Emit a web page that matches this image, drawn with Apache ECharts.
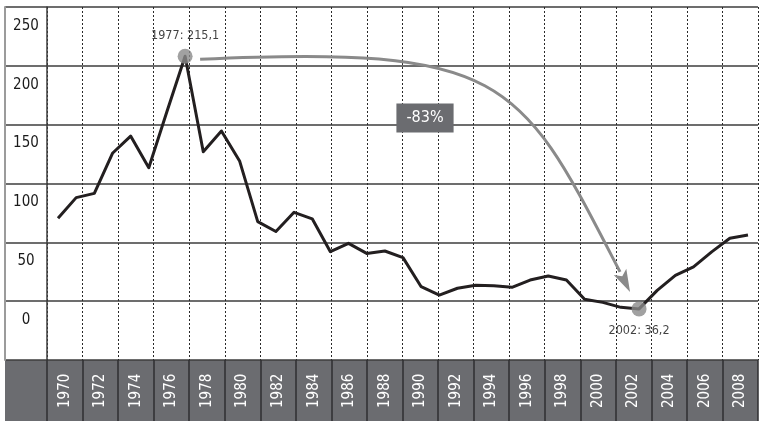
<!DOCTYPE html>
<html>
<head>
<meta charset="utf-8">
<script src="https://cdn.jsdelivr.net/npm/echarts@6.0.0/dist/echarts.min.js"></script>
<style>
  html, body { margin: 0; padding: 0; background: #fff; }
  #chart { width: 759px; height: 421px; }
</style>
</head>
<body>
<div id="chart"></div>
<script>
// data
let years = [1970, 1971, 1972, 1973, 1974, 1975, 1976, 1977, 1978, 1979,
  1980, 1981, 1982, 1983, 1984, 1985, 1986, 1987, 1988, 1989,
  1990, 1991, 1992, 1993, 1994, 1995, 1996, 1997, 1998, 1999,
  2000, 2001, 2002, 2003, 2004, 2005, 2006, 2007, 2008]
let values = [100.4, 115, 118, 146.4, 158.6, 136.2, 176, 215.1, 147.5, 162.2,
  141, 98, 91, 104.6, 100, 76.7, 82.6, 75.5, 77.2, 72.5,
  51.9, 46, 50.8, 52.9, 52.6, 51.5, 56.6, 59.5, 56.7, 43,
  40.8, 37.3, 36.2, 49.3, 59.9, 66, 76.6, 86.2, 88.5]
let cellLabels = ['1970', '1972', '1974', '1976', '1978', '1980', '1982', '1984', '1986', '1988',
  '1990', '1992', '1994', '1996', '1998', '2000', '2002', '2004', '2006', '2008']
let rowLabels = ['0', '50', '100', '150', '200', '250']
let markYears = [1977, 2002]

let font = "'DejaVu Sans Condensed', 'Liberation Sans', sans-serif"
let gridColor = '#3c3c3c'
let bandColor = '#6b6c70'

function valueOf(year) {
  return values[years.indexOf(year)]
}

function fmt(v) {
  return String(v).replace('.', ',')
}

let chart = echarts.init(document.getElementById('chart'))

let markData = markYears.map(function (y, i) {
  return {
    value: [y, valueOf(y)],
    label: i === 0 ? {position: 'top', distance: 7} : {position: 'bottom', distance: 8}
  }
})

let option = {
  animation: false,
  textStyle: {fontFamily: font},
  grid: [
    {left: 5, top: 7, width: 42, height: 353},
    {left: 47, top: 7, width: 711, height: 353},
    {left: 47, top: 360, width: 711, height: 61, show: true, backgroundColor: bandColor, borderWidth: 0},
    {left: 5, top: 360, width: 42, height: 61, show: true, backgroundColor: bandColor, borderWidth: 0}
  ],
  xAxis: [
    {gridIndex: 0, type: 'value', show: false},
    {
      gridIndex: 1, type: 'category', data: cellLabels, boundaryGap: true,
      axisLine: {show: false}, axisTick: {show: false}, axisLabel: {show: false},
      splitLine: {show: true, interval: 0, lineStyle: {color: '#2a2a2a', width: 1, type: [2, 2]}}
    },
    {gridIndex: 1, type: 'value', min: 1969.394, max: 2008.551, show: false},
    {
      gridIndex: 2, type: 'category', data: cellLabels, boundaryGap: true, position: 'bottom',
      axisLine: {show: false}, axisTick: {show: false},
      axisLabel: {inside: true, interval: 0, rotate: 90, margin: 13, color: '#ffffff', fontSize: 15, fontFamily: font},
      splitLine: {show: true, interval: 0, lineStyle: {color: '#2e2e30', width: 1.5}}
    },
    {gridIndex: 3, type: 'value', show: false}
  ],
  yAxis: [
    {
      gridIndex: 0, type: 'category', data: rowLabels, boundaryGap: true,
      axisLine: {show: true, lineStyle: {color: '#9b9b9b', width: 2}},
      axisTick: {show: false},
      axisLabel: {
        inside: true, interval: 0, align: 'center', margin: 21, verticalAlign: 'bottom',
        padding: [0, 0, 3, 0], fontSize: 15, color: '#1a1a1a', fontFamily: font
      },
      splitLine: {show: true, interval: 0, lineStyle: {color: gridColor, width: 1.5}}
    },
    {
      gridIndex: 1, type: 'category', data: rowLabels, boundaryGap: true,
      axisLine: {show: true, lineStyle: {color: gridColor, width: 1.5}},
      axisTick: {show: false}, axisLabel: {show: false},
      splitLine: {show: true, interval: 0, lineStyle: {color: gridColor, width: 1.5}}
    },
    {gridIndex: 1, type: 'value', min: 0, max: 250, show: false},
    {gridIndex: 2, type: 'value', show: false},
    {gridIndex: 3, type: 'value', show: false}
  ],
  series: [
    {
      type: 'line', xAxisIndex: 2, yAxisIndex: 2,
      data: years.map(function (y, i) { return [y, values[i]] }),
      symbol: 'none', lineStyle: {color: '#231f20', width: 3, join: 'round'}, z: 3
    },
    {
      type: 'scatter', xAxisIndex: 2, yAxisIndex: 2, data: markData,
      symbolSize: 15, itemStyle: {color: '#8a8a8a'}, z: 5,
      label: {
        show: true, color: '#111111', fontSize: 12.5, fontFamily: font,
        formatter: function (p) { return p.value[0] + ': ' + fmt(p.value[1]) }
      }
    }
  ]
}
chart.setOption(option)

// curved arrow and change box, anchored on the two marked points
function drawArrow() {
  let a = chart.convertToPixel({seriesIndex: 0}, [markYears[0], valueOf(markYears[0])])
  let b = chart.convertToPixel({seriesIndex: 0}, [markYears[1], valueOf(markYears[1])])
  let dx = b[0] - a[0]
  let dy = b[1] - a[1]
  let base = [b[0] - 19, b[1] - 37]
  let tip = [b[0] - 9, b[1] - 17]
  let ux = tip[0] - base[0], uy = tip[1] - base[1]
  let len = Math.sqrt(ux * ux + uy * uy)
  let px = -uy / len * 7, py = ux / len * 7
  let change = Math.round((valueOf(markYears[1]) - valueOf(markYears[0])) / valueOf(markYears[0]) * 100)

  chart.setOption({
    graphic: [
      {
        type: 'bezierCurve', z: 10,
        shape: {
          x1: a[0] + 15, y1: a[1] + 3,
          cpx1: a[0] + 0.72 * dx, cpy1: a[1] - 12,
          cpx2: a[0] + 0.74 * dx, cpy2: a[1] + 0.1 * dy,
          x2: base[0], y2: base[1]
        },
        style: {stroke: '#8a8a8a', lineWidth: 3, fill: null}
      },
      {
        type: 'polygon', z: 10,
        shape: {points: [tip, [base[0] + px, base[1] + py], [base[0] + ux / len * 5, base[1] + uy / len * 5], [base[0] - px, base[1] - py]]},
        style: {fill: '#8a8a8a'}
      },
      {
        type: 'text', z: 10, x: 425, y: 118,
        style: {
          text: change + '%', fill: '#ffffff', font: '16px ' + font,
          align: 'center', verticalAlign: 'middle',
          backgroundColor: bandColor, padding: [5, 10, 5, 10], lineHeight: 19
        }
      }
    ]
  })
}
drawArrow()
</script>
</body>
</html>
